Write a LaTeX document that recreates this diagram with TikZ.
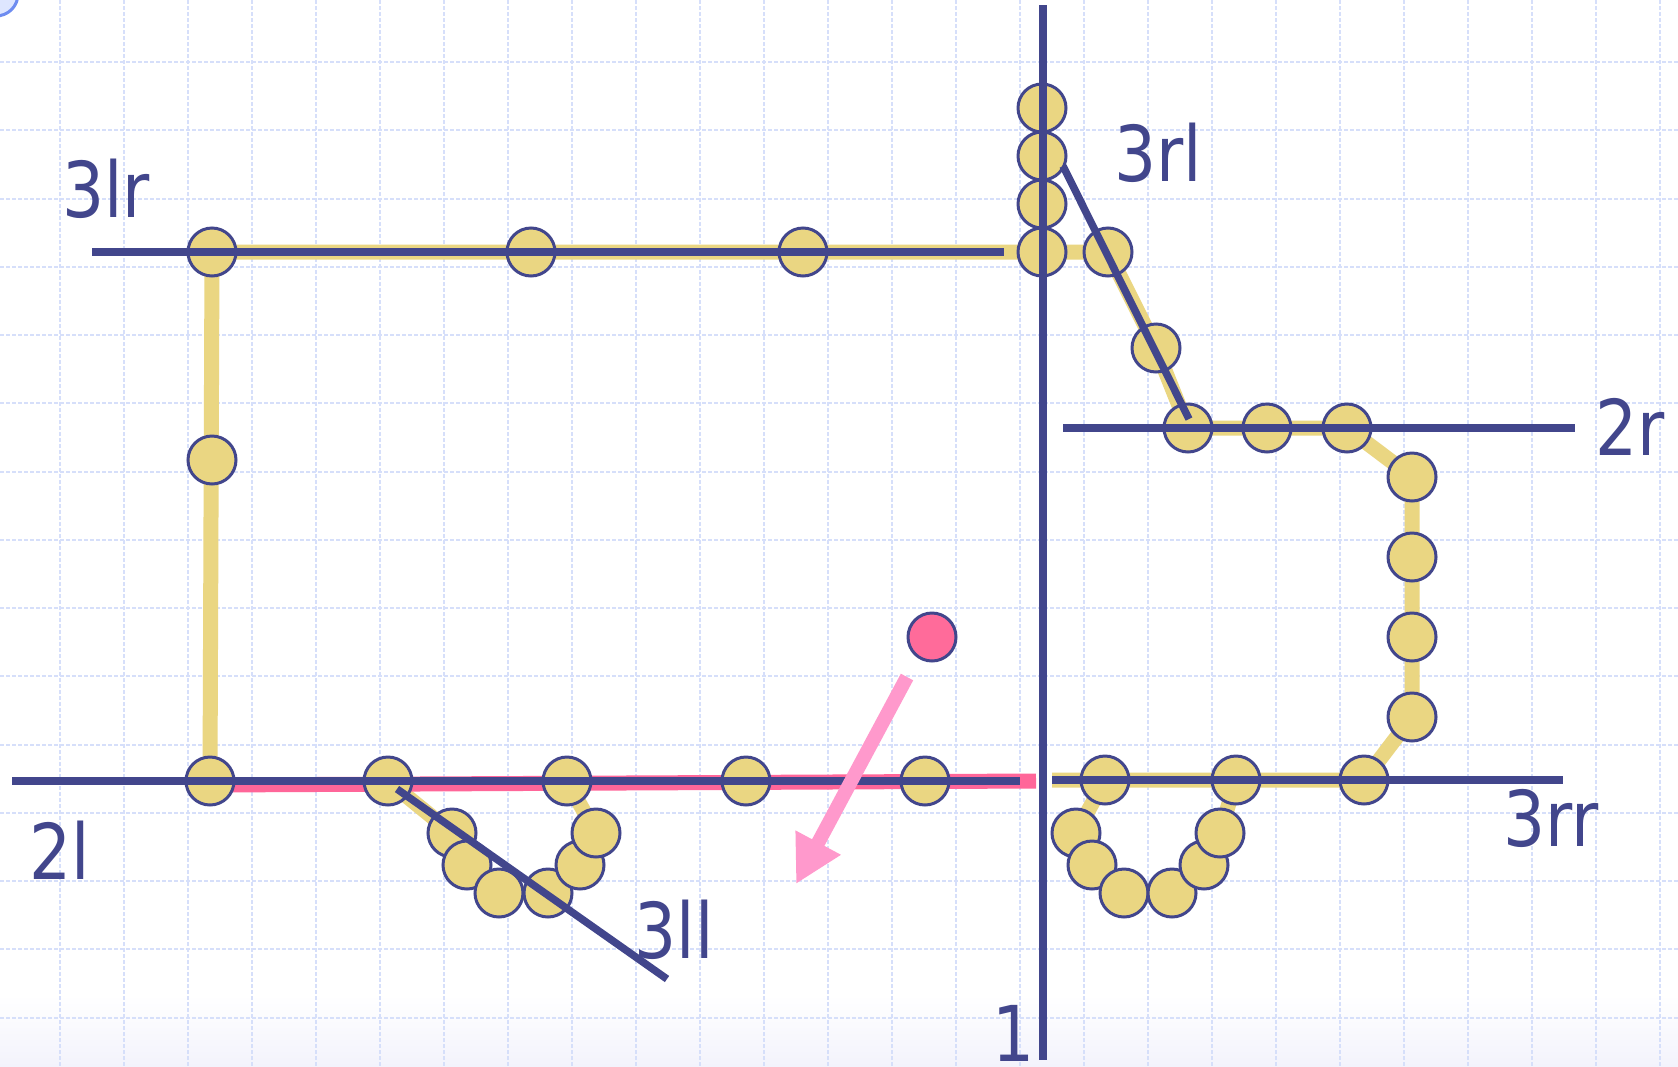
\documentclass[tikz,border=0pt]{standalone}
\usepackage{fontspec}
\setmainfont{DejaVu Sans}
\usetikzlibrary{arrows.meta}
\definecolor{navy}{RGB}{66,70,140}
\definecolor{beadyellow}{RGB}{234,214,130}
\definecolor{bandpink}{RGB}{255,102,153}
\definecolor{dotpink}{RGB}{255,107,154}
\definecolor{arrowpink}{RGB}{255,153,204}
\definecolor{gridblue}{RGB}{214,223,250}
\definecolor{cornerfill}{RGB}{222,230,255}
\definecolor{cornerline}{RGB}{110,140,240}
\definecolor{bottomtint}{RGB}{243,243,252}
\newcommand{\narrowtxt}[1]{\scalebox{0.86}[1]{#1}}
\begin{document}
\begin{tikzpicture}[x=1pt,y=-1pt,
  beadnode/.style={circle,minimum size=48pt,inner sep=0pt,fill=beadyellow,draw=navy,line width=3pt},
  pinkdot/.style={circle,minimum size=48pt,inner sep=0pt,fill=dotpink,draw=navy,line width=3pt},
  gridline/.style={gridblue,line width=2pt,dash pattern=on 4pt off 2pt},
  trackline/.style={beadyellow,line width=15pt,line join=round},
  axisline/.style={navy,line width=7.5pt},
  bandline/.style={bandpink,line width=15pt},
  lbl/.style={text=navy,inner sep=0pt,font=\fontsize{77}{80}\selectfont},
  movearrow/.style={arrowpink,line width=14pt,-{Triangle[length=47pt,width=48pt]}}
]
\useasboundingbox (0,0) rectangle (1678,1066);
\fill[white] (0,0) rectangle (1678,1066);
\shade[top color=white,bottom color=bottomtint] (0,995) rectangle (1678,1066);
% grid
\foreach \k in {0,...,25} \draw[gridline] ({60+64*\k},0) -- ({60+64*\k},1066);
\foreach \k in {0,...,14} \draw[gridline] (0,{62+68.25*\k}) -- (1678,{62+68.25*\k});
% corner decoration
\draw[fill=cornerfill,draw=cornerline,line width=3pt] (-4,-6) circle (22);

% bead positions
\coordinate (L1) at (212,252);
\coordinate (L2) at (212,460);
\coordinate (B1) at (210,781);
\coordinate (T1) at (531,252);
\coordinate (T2) at (803,252);
\coordinate (V4) at (1042,252);
\coordinate (V3) at (1042,204);
\coordinate (V2) at (1042,156);
\coordinate (V1) at (1042,108);
\coordinate (R1) at (1108,252);
\coordinate (R2) at (1156,348);
\coordinate (R3) at (1188,428);
\coordinate (R4) at (1267,428);
\coordinate (R5) at (1347,428);
\coordinate (R6) at (1412,477);
\coordinate (R7) at (1412,557);
\coordinate (R8) at (1412,637);
\coordinate (R9) at (1412,717);
\coordinate (R10) at (1364,780);
\coordinate (R11) at (1236,780);
\coordinate (R12) at (1105,780);
\coordinate (Q1) at (1076,833);
\coordinate (Q2) at (1092,865);
\coordinate (Q3) at (1124,893);
\coordinate (Q4) at (1172,893);
\coordinate (Q5) at (1204,865);
\coordinate (Q6) at (1220,833);
\coordinate (B2) at (388,781);
\coordinate (B3) at (567,781);
\coordinate (B4) at (746,781);
\coordinate (B5) at (925,781);
\coordinate (P1) at (452,833);
\coordinate (P2) at (467,865);
\coordinate (P3) at (499,893);
\coordinate (P4) at (548,893);
\coordinate (P5) at (580,865);
\coordinate (P6) at (596,833);
\coordinate (Rstart) at (1052,780);

% yellow track
\draw[trackline] (B1) -- (L1) -- (V4) -- (R1) -- (R2) -- (R3) -- (R5) -- (R6) -- (R9) -- (R10) -- (Rstart);
\draw[trackline] (R12) -- (Q1) -- (Q2) -- (Q3) -- (Q4) -- (Q5) -- (Q6) -- (R11);
\draw[trackline] (B2) -- (P1) -- (P2) -- (P3) -- (P4) -- (P5) -- (P6) -- (B3);

% pink band
\coordinate (bandA) at (211,785);
\coordinate (bandB) at (1036,781);
\draw[bandline] (bandA) -- (bandB);

% beads
\foreach \n in {L1,L2,B1,T1,T2,V1,V2,V3,V4,R1,R2,R3,R4,R5,R6,R7,R8,R9,R10,R11,R12,Q1,Q2,Q3,Q4,Q5,Q6,B2,B3,B4,B5,P1,P2,P3,P4,P5,P6}
  \node[beadnode] (n\n) at (\n) {};

% navy lines
\coordinate (a1) at (1043,5);     \coordinate (a2) at (1043,1060);
\coordinate (lrA) at (92,252);    \coordinate (lrB) at (1004,252);
\coordinate (rlA) at (1063,166);  \coordinate (rlB) at (1189,419);
\coordinate (r2A) at (1063,428);  \coordinate (r2B) at (1575,428);
\coordinate (rrA) at (1052,780);  \coordinate (rrB) at (1563,780);
\coordinate (l2A) at (12,781);    \coordinate (l2B) at (1020,781);
\coordinate (llA) at (397,789);   \coordinate (llB) at (667,979);
\draw[axisline] (a1) -- (a2);
\draw[axisline] (lrA) -- (lrB);
\draw[axisline] (rlA) -- (rlB);
\draw[axisline] (r2A) -- (r2B);
\draw[axisline] (rrA) -- (rrB);
\draw[axisline] (l2A) -- (l2B);
\draw[axisline] (llA) -- (llB);

% labels
\node[lbl] (t3lr) at (106,189) {\narrowtxt{3lr}};
\node[lbl] (t3rl) at (1158,153) {\narrowtxt{3rl}};
\node[lbl] (t2r) at (1630,427) {\narrowtxt{2r}};
\node[lbl] (t3rr) at (1551,818) {\narrowtxt{3rr}};
\node[lbl] (t3ll) at (674,930) {\narrowtxt{3ll}};
\node[lbl] (t2l) at (60,850) {\narrowtxt{2l}};
\node[lbl] (t1) at (1014,1033) {\narrowtxt{1}};

% pink dot and arrow
\node[pinkdot] (dot) at (932,637) {};
\coordinate (arA) at (907,677);
\coordinate (arB) at (796,884);
\draw[movearrow] (arA) -- (arB);
\end{tikzpicture}
\end{document}
